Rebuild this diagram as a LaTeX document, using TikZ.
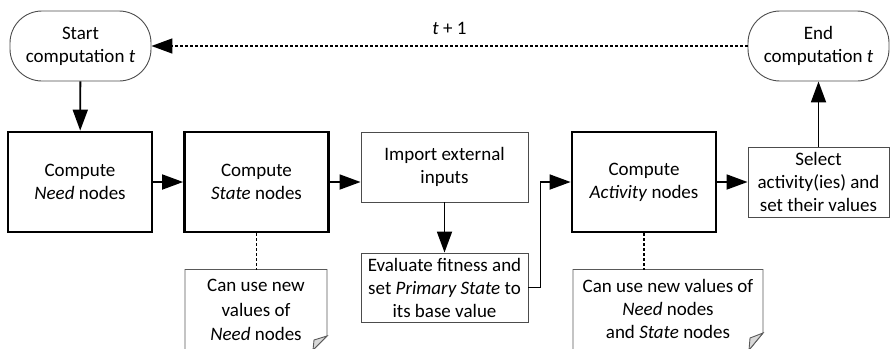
\documentclass[tikz,border=0pt]{standalone}
\usepackage{fontspec}
\setmainfont{Carlito}
\usetikzlibrary{arrows.meta}
\begin{document}
\begin{tikzpicture}[x=1pt,y=-1pt,
  every node/.style={font=\fontsize{19}{23}\selectfont, align=center, inner sep=0pt},
  thickbox/.style={draw, line width=2.8pt, minimum width=144pt, minimum height=100pt},
  thinbox/.style={draw=black!70, line width=0.9pt},
  term/.style={draw=black!70, line width=0.9pt, rounded corners=32pt, minimum width=141pt, minimum height=70pt},
  tip/.style={-{Triangle[length=21pt,width=15pt]}},
  arr/.style={line width=1.8pt, tip},
  dots/.style={line width=1.6pt, dash pattern=on 3pt off 2pt},
  notebox/.style={draw=black!65, line width=0.9pt}
]
\useasboundingbox (0,0) rectangle (890,348);
% terminals
\node[term] (start) at (80.5,46) {Start\\computation \textit{t}};
\node[term] (end) at (818.5,46) {End\\computation \textit{t}};
% main boxes
\node[thickbox] (need) at (80,182) {Compute\\\textit{Need} nodes};
\node[thickbox] (state) at (256.5,182) {Compute\\\textit{State} nodes};
\node[thinbox, minimum width=167pt, minimum height=70pt] (import) at (444.5,167) {Import external\\inputs};
\node[thinbox, minimum width=167pt, minimum height=69pt] (eval) at (444.5,287.5) {Evaluate fitness and\\set \textit{Primary State} to\\its base value};
\node[thickbox] (act) at (644,182) {Compute\\\textit{Activity} nodes};
\node[thinbox, minimum width=141pt, minimum height=70pt] (sel) at (818.5,182) {Select\\activity(ies) and\\set their values};
% notes
\draw[notebox] (185,350) -- (185,269.5) -- (327,269.5) -- (327,336) -- (313,350);
\filldraw[notebox, fill=black!15] (327,336) -- (314,340) -- (313,350) -- cycle;
\node (n1a) at (256,285) {Can use new};
\node (n1b) at (256,310) {values of};
\node (n1c) at (256,334) {\textit{Need} nodes};
\draw[notebox] (573,350) -- (573,269.5) -- (763,269.5) -- (763,333) -- (749,350);
\filldraw[notebox, fill=black!15] (763,333) -- (750,338) -- (749,350) -- cycle;
\node (n2) at (668,309) {Can use new values of\\\textit{Need} nodes\\and \textit{State} nodes};
\coordinate (n1top) at (256.5,269.5);
\coordinate (n2top) at (644,269.5);
% connectors
\draw[arr] (start) -- (need);
\draw[arr] (need) -- (state);
\draw[arr] (state.east) -- (import.west |- state.east);
\draw[arr] (import.south) -- (eval.north);
\draw[arr] (eval.east) -- ++(12,0) |- (act.west);
\draw[arr] (act) -- (sel);
\draw[arr] (sel.north) -- (end.south);
\draw[dots, tip] (end.west) -- (start.east) node[pos=0.5, above=11pt] {\textit{t} + 1};
\draw[dots] (state.south) -- (n1top);
\draw[dots] (act.south) -- (n2top);
\end{tikzpicture}
\end{document}
